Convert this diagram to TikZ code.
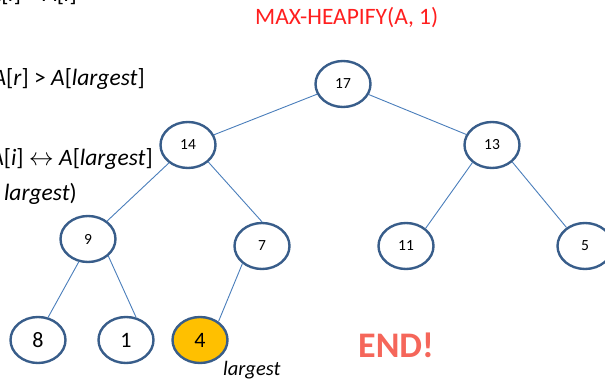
\documentclass[tikz,border=0pt]{standalone}
\usepackage{fontspec}
\setmainfont{Carlito}
\usetikzlibrary{shapes.geometric}
\definecolor{nodeline}{RGB}{56,93,138}
\definecolor{edgeline}{RGB}{74,126,187}
\definecolor{hlfill}{RGB}{255,192,0}
\definecolor{endred}{RGB}{245,102,90}
\definecolor{titlered}{RGB}{255,30,30}
\tikzset{
  heapnode/.style={ellipse, draw=nodeline, line width=2.4pt, fill=white,
    minimum width=55pt, minimum height=46pt, inner sep=0pt},
  smallkey/.style={font=\fontsize{15.5}{18}\selectfont},
  bigkey/.style={font=\fontsize{22}{26}\selectfont},
  treeedge/.style={draw=edgeline, line width=0.9pt},
  codeline/.style={font=\fontsize{23.5}{28}\selectfont, anchor=base east, inner sep=0pt},
}
\begin{document}
\begin{tikzpicture}[x=1pt,y=-1pt]
\useasboundingbox (0,0) rectangle (605,382);

% pseudocode fragments on the left
\node[codeline] (c1) at (77,2) {\textit{A}[\textit{l}] > \textit{A}[\textit{i}]};
\node[codeline] (c2) at (145,86) {\textit{A}[\textit{r}] > \textit{A}[\textit{largest}]};
\node[codeline] (c3) at (153,166) {\textit{A}[\textit{i}] $\leftrightarrow$ \textit{A}[\textit{largest}]};
\node[codeline] (c4) at (77,201) {\textit{largest})};

% title
\node[font=\fontsize{23.5}{28}\selectfont, text=titlered, anchor=base west, inner sep=0pt]
  (title) at (255,25) {MAX-HEAPIFY(A, 1)};

% heap nodes
\node[heapnode, smallkey] (n17) at (343,84) {17};
\node[heapnode, smallkey] (n14) at (188,145) {14};
\node[heapnode, smallkey] (n13) at (492,145) {13};
\node[heapnode, smallkey] (n9) at (88,239) {9};
\node[heapnode, smallkey] (n7) at (262,246) {7};
\node[heapnode, smallkey] (n11) at (406,246) {11};
\node[heapnode, smallkey] (n5) at (585,246) {5};
\node[heapnode, bigkey] (n8) at (38,340) {8};
\node[heapnode, bigkey] (n1) at (126,340) {1};
\node[heapnode, bigkey, fill=hlfill] (n4) at (200,340) {4};

% tree edges
\draw[treeedge] (n17) -- (n14);
\draw[treeedge] (n17) -- (n13);
\draw[treeedge] (n14) -- (n9);
\draw[treeedge] (n14.-40) -- (n7.north);
\draw[treeedge] (n13.-138) -- (n11.42);
\draw[treeedge] (n13.-40) -- (n5.135);
\draw[treeedge] (n9.-112) -- (n8.66);
\draw[treeedge] (n9.-40) -- (n1.66);
\draw[treeedge] (n7.-138) -- (n4.45);

% labels
\node[font=\fontsize{20.5}{24}\selectfont\itshape, anchor=base west, inner sep=0pt]
  (lbl) at (223,375) {largest};
\node[font=\fontsize{36}{42}\selectfont\bfseries, text=endred, anchor=base west, inner sep=0pt]
  (endtxt) at (358,357) {END!};
\end{tikzpicture}
\end{document}
